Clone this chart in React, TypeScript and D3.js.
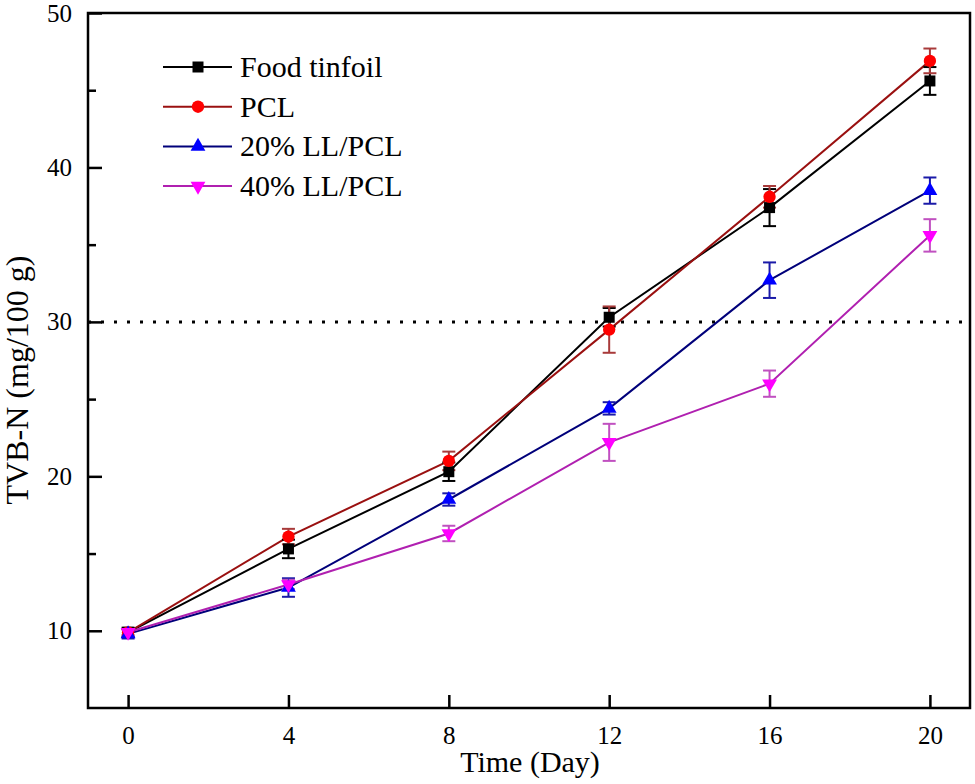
import { useEffect, useRef } from "react";
import * as d3 from "d3";

const days = [0, 4, 8, 12, 16, 20];

const tinfoil = [9.9, 15.3, 20.3, 30.3, 37.4, 45.6];
const tinfoilErr = [0.3, 0.6, 0.6, 0.6, 1.2, 0.9];
const pcl = [9.9, 16.1, 21.0, 29.5, 38.1, 46.9];
const pclErr = [0.2, 0.5, 0.6, 1.5, 0.7, 0.8];
const ll20 = [9.8, 12.8, 18.5, 24.4, 32.7, 38.5];
const ll20Err = [0.3, 0.6, 0.4, 0.4, 1.15, 0.85];
const ll40 = [9.9, 13.0, 16.3, 22.2, 26.0, 35.6];
const ll40Err = [0.2, 0.3, 0.5, 1.2, 0.85, 1.05];

const seriesNames = ["Food tinfoil", "PCL", "20% LL/PCL", "40% LL/PCL"];
const yMajorTicks = [10, 20, 30, 40, 50];
const yMinorTicks = [15, 25, 35, 45];
const limit = 30;

interface Series {
  name: string;
  values: number[];
  errors: number[];
  line: string;
  fill: string;
  err: string;
  symbol: d3.SymbolType;
  size: number;
  rotate: number;
}

const App: React.FC = () => {
  const ref = useRef<SVGSVGElement>(null);

  useEffect(() => {
    document.body.style.margin = "0";
    const width = 975;
    const height = 784;
    const left = 88, right = 970, top = 13, bottom = 708;
    const font = "'Liberation Serif', 'Times New Roman', serif";

    const series: Series[] = [
      { name: seriesNames[0], values: tinfoil, errors: tinfoilErr, line: "#000000", fill: "#000000", err: "#000000", symbol: d3.symbolSquare, size: 121, rotate: 0 },
      { name: seriesNames[1], values: pcl, errors: pclErr, line: "#9a1010", fill: "#ff0000", err: "#a83a3a", symbol: d3.symbolCircle, size: 120, rotate: 0 },
      { name: seriesNames[2], values: ll20, errors: ll20Err, line: "#00007a", fill: "#0000ff", err: "#1a1aa8", symbol: d3.symbolTriangle, size: 95, rotate: 0 },
      { name: seriesNames[3], values: ll40, errors: ll40Err, line: "#b020b0", fill: "#ff00ff", err: "#c050c0", symbol: d3.symbolTriangle, size: 95, rotate: 180 },
    ];

    const svg = d3.select(ref.current);
    svg.selectAll("*").remove();
    svg.attr("width", width).attr("height", height);

    const x = d3.scaleLinear().domain([-1, 21]).range([left, right]);
    const y = d3.scaleLinear().domain([5, 50]).range([bottom, top]);

    // limit line
    svg.append("line")
      .attr("x1", left).attr("x2", right)
      .attr("y1", y(limit)).attr("y2", y(limit))
      .attr("stroke", "#000")
      .attr("stroke-width", 3)
      .attr("stroke-dasharray", "3 10");

    // axes
    const yAxis = svg.append("g")
      .attr("transform", `translate(${left},0)`)
      .call(d3.axisLeft(y).tickValues(yMajorTicks).tickSize(-14).tickPadding(16).tickFormat(d3.format("d")));
    svg.append("g")
      .attr("transform", `translate(${left},0)`)
      .call(d3.axisLeft(y).tickValues(yMinorTicks).tickSize(-8).tickFormat(() => ""));
    const xAxis = svg.append("g")
      .attr("transform", `translate(0,${bottom})`)
      .call(d3.axisBottom(x).tickValues(days).tickSize(-13).tickPadding(18).tickFormat(d3.format("d")));

    svg.selectAll(".domain").remove();
    svg.selectAll(".tick line").attr("stroke", "#000").attr("stroke-width", 2.5);
    [yAxis, xAxis].forEach(g => g.selectAll("text")
      .attr("font-family", font)
      .attr("font-size", 25)
      .attr("fill", "#000"));

    svg.append("rect")
      .attr("x", left).attr("y", top)
      .attr("width", right - left).attr("height", bottom - top)
      .attr("fill", "none")
      .attr("stroke", "#000")
      .attr("stroke-width", 2.5);

    // axis titles
    svg.append("text")
      .attr("x", (462 + 598) / 2).attr("y", 772)
      .attr("text-anchor", "middle")
      .attr("font-family", font).attr("font-size", 30)
      .text("Time (Day)");
    svg.append("text")
      .attr("transform", `translate(28,${(252 + 508) / 2}) rotate(-90)`)
      .attr("text-anchor", "middle")
      .attr("font-family", font).attr("font-size", 32)
      .text("TVB-N (mg/100 g)");

    const line = d3.line<number>()
      .x((_, i) => x(days[i]))
      .y(d => y(d));

    series.forEach(s => {
      svg.append("path")
        .datum(s.values)
        .attr("fill", "none")
        .attr("stroke", s.line)
        .attr("stroke-width", 2)
        .attr("d", line);
    });

    series.forEach(s => {
      const g = svg.append("g").attr("stroke", s.err).attr("stroke-width", 2);
      s.values.forEach((v, i) => {
        const cx = x(days[i]);
        const y0 = y(v - s.errors[i]);
        const y1 = y(v + s.errors[i]);
        g.append("line").attr("x1", cx).attr("x2", cx).attr("y1", y0).attr("y2", y1);
        g.append("line").attr("x1", cx - 6.5).attr("x2", cx + 6.5).attr("y1", y0).attr("y2", y0);
        g.append("line").attr("x1", cx - 6.5).attr("x2", cx + 6.5).attr("y1", y1).attr("y2", y1);
      });
    });

    series.forEach(s => {
      const sym = d3.symbol().type(s.symbol).size(s.size);
      svg.append("g")
        .selectAll("path")
        .data(s.values)
        .join("path")
        .attr("transform", (d, i) => `translate(${x(days[i])},${y(d)}) rotate(${s.rotate})`)
        .attr("fill", s.fill)
        .attr("d", sym);
    });

    // legend
    const legend = svg.append("g");
    const rowY = (i: number) => 67 + i * 39.7;
    series.forEach((s, i) => {
      const ry = rowY(i);
      legend.append("line")
        .attr("x1", 163).attr("x2", 232)
        .attr("y1", ry).attr("y2", ry)
        .attr("stroke", s.line).attr("stroke-width", 2);
      legend.append("path")
        .attr("transform", `translate(198,${ry}) rotate(${s.rotate})`)
        .attr("fill", s.fill)
        .attr("d", d3.symbol().type(s.symbol).size(s.size)());
      legend.append("text")
        .attr("x", 240).attr("y", ry + 10)
        .attr("font-family", font).attr("font-size", 30)
        .text(s.name);
    });
  }, []);

  return <svg ref={ref} style={{ display: "block" }} />;
};

export default App;
